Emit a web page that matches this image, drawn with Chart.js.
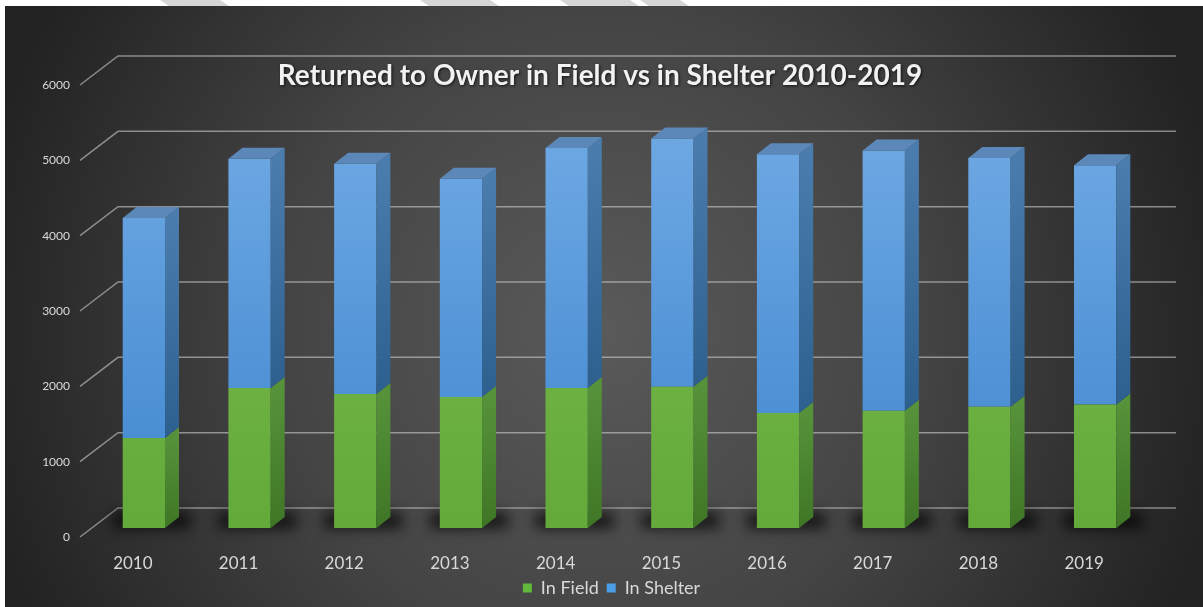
<!DOCTYPE html>
<html>
<head>
<meta charset="utf-8">
<title>Returned to Owner</title>
<script src="https://cdn.jsdelivr.net/npm/chart.js@4/dist/chart.umd.min.js"></script>
<style>
  html, body { margin: 0; padding: 0; background: #fff; }
  #wrap { width: 1203px; height: 607px; }
</style>
</head>
<body>
<div id="wrap"><canvas id="chart" width="1203" height="607"></canvas></div>
<script>
// Values
const years = ['2010', '2011', '2012', '2013', '2014', '2015', '2016', '2017', '2018', '2019'];
const inField = [1195, 1860, 1780, 1740, 1860, 1875, 1525, 1555, 1610, 1640];
const inShelter = [2920, 3040, 3055, 2895, 3185, 3295, 3435, 3455, 3300, 3175];
const yTicks = [0, 1000, 2000, 3000, 4000, 5000, 6000];
const chartTitle = 'Returned to Owner in Field vs in Shelter 2010-2019';

// fake 3d look
const DX = 14, DY = 11;          // bar depth
const WALL_X = 118, WALL_R = 1176, WALL_UP = 20, FRONT_X = 80, FRONT_DOWN = 9;

const sideColors = [['#56923a', '#3f7626'], ['#4a7cad', '#2d5f8f']];
const legendColors = ['#62b83c', '#4c9fe6'];

function poly(ctx, pts) {
  ctx.beginPath();
  ctx.moveTo(pts[0][0], pts[0][1]);
  for (let i = 1; i < pts.length; i++) ctx.lineTo(pts[i][0], pts[i][1]);
  ctx.closePath();
  ctx.fill();
}

function frontGradient(context, top, bottom) {
  const area = context.chart.chartArea;
  if (!area) return top;
  const g = context.chart.ctx.createLinearGradient(0, area.top, 0, area.bottom);
  g.addColorStop(0, top);
  g.addColorStop(1, bottom);
  return g;
}

const scene3d = {
  id: 'scene3d',
  afterLayout(chart) {
    // legend sits a little left of the plot centre
    chart.legend.left -= 8;
    chart.legend.right -= 8;
  },
  beforeDraw(chart) {
    const { ctx, width, height } = chart;
    ctx.save();
    ctx.fillStyle = '#fff';
    ctx.fillRect(0, 0, width, height);
    // grey stripes in the white strip on top
    ctx.fillStyle = '#d6d6d6';
    [[160, 60], [420, 70], [560, 70], [640, 40]].forEach(([x, w]) => {
      poly(ctx, [[x, 0], [x + w, 0], [x + w + 12, 8], [x + 12, 8]]);
    });
    const cx = 600, cy = 330;
    const g = ctx.createRadialGradient(cx, cy, 0, cx, cy, 640);
    g.addColorStop(0, '#5a5a5a');
    g.addColorStop(0.5, '#444');
    g.addColorStop(1, '#222');
    ctx.fillStyle = g;
    ctx.fillRect(5, 6, width - 5, height - 6);
    ctx.restore();
  },
  beforeDatasetsDraw(chart) {
    const { ctx } = chart;
    const y = chart.scales.y;
    ctx.save();
    ctx.strokeStyle = 'rgba(205,205,205,0.6)';
    ctx.lineWidth = 1.5;
    yTicks.forEach(v => {
      const p = y.getPixelForValue(v);
      ctx.beginPath();
      ctx.moveTo(FRONT_X, p + FRONT_DOWN);
      ctx.lineTo(WALL_X, p - WALL_UP);
      ctx.lineTo(WALL_R, p - WALL_UP);
      ctx.stroke();
    });
    // floor shadow under each bar
    const meta = chart.getDatasetMeta(0);
    ctx.filter = 'blur(7px)';
    ctx.fillStyle = 'rgba(0,0,0,0.75)';
    meta.data.forEach(bar => {
      const { x, base, width } = bar.getProps(['x', 'base', 'width'], true);
      ctx.fillRect(x - width / 2 - 10, base - 15, width + 36, 15);
    });
    ctx.restore();
  },
  afterDatasetsDraw(chart) {
    const { ctx } = chart;
    const last = chart.data.datasets.length - 1;
    ctx.save();
    chart.data.datasets.forEach((ds, di) => {
      chart.getDatasetMeta(di).data.forEach(bar => {
        const { x, y, base, width } = bar.getProps(['x', 'y', 'base', 'width'], true);
        const l = x - width / 2, r = x + width / 2;
        const top = Math.min(y, base), bot = Math.max(y, base);
        const sg = ctx.createLinearGradient(0, top, 0, bot);
        sg.addColorStop(0, sideColors[di][0]);
        sg.addColorStop(1, sideColors[di][1]);
        ctx.fillStyle = sg;
        poly(ctx, [[r, top], [r + DX, top - DY], [r + DX, bot - DY], [r, bot]]);
        if (di === last) {
          ctx.fillStyle = '#5b88b8';
          poly(ctx, [[l, top], [l + DX, top - DY], [r + DX, top - DY], [r, top]]);
        }
      });
    });
    ctx.restore();
  },
  afterDraw(chart) {
    const { ctx } = chart;
    ctx.save();
    ctx.font = 'bold 28px Lato';
    ctx.textAlign = 'center';
    ctx.textBaseline = 'middle';
    ctx.shadowColor = 'rgba(0,0,0,0.7)';
    ctx.shadowBlur = 3;
    ctx.shadowOffsetX = 1;
    ctx.shadowOffsetY = 1;
    ctx.fillStyle = '#f2f2f2';
    ctx.fillText(chartTitle, 600, 76);
    ctx.restore();
  }
};

const ctx = document.getElementById('chart').getContext('2d');
new Chart(ctx, {
  type: 'bar',
  data: {
    labels: years,
    datasets: [
      {
        label: 'In Field',
        data: inField,
        backgroundColor: c => frontGradient(c, '#7fbf50', '#63aa3b')
      },
      {
        label: 'In Shelter',
        data: inShelter,
        backgroundColor: c => frontGradient(c, '#74ade6', '#3f86cf')
      }
    ]
  },
  options: {
    responsive: false,
    devicePixelRatio: 1,
    animation: false,
    categoryPercentage: 1,
    barPercentage: 0.4,
    layout: { padding: { top: 76, left: 0, right: 55, bottom: 0 } },
    scales: {
      x: {
        stacked: true,
        grid: { display: false, drawTicks: false },
        border: { display: false },
        ticks: { color: '#d9d9d9', font: { family: 'Lato', size: 17 }, padding: 25, labelOffset: -11 },
        afterFit: s => { s.height = 43; }
      },
      y: {
        stacked: true,
        min: 0,
        max: 6000,
        grid: { display: false, drawTicks: false },
        border: { display: false },
        afterBuildTicks: s => { s.ticks = yTicks.map(v => ({ value: v })); },
        ticks: {
          color: '#d9d9d9',
          font: { family: 'Lato', size: 12 },
          padding: 21,
          labelOffset: 9,
          callback: v => String(v)
        },
        afterFit: s => { s.width = 91; }
      }
    },
    plugins: {
      title: { display: false },
      tooltip: { enabled: false },
      legend: {
        position: 'bottom',
        fullSize: false,
        labels: {
          color: '#d9d9d9',
          font: { family: 'Lato', size: 18 },
          boxWidth: 9,
          boxHeight: 9,
          padding: 8,
          generateLabels: chart => Chart.defaults.plugins.legend.labels.generateLabels(chart).map((it, i) => ({
            ...it, fillStyle: legendColors[i], strokeStyle: legendColors[i], lineWidth: 0
          }))
        }
      }
    }
  },
  plugins: [scene3d]
});
</script>
</body>
</html>
